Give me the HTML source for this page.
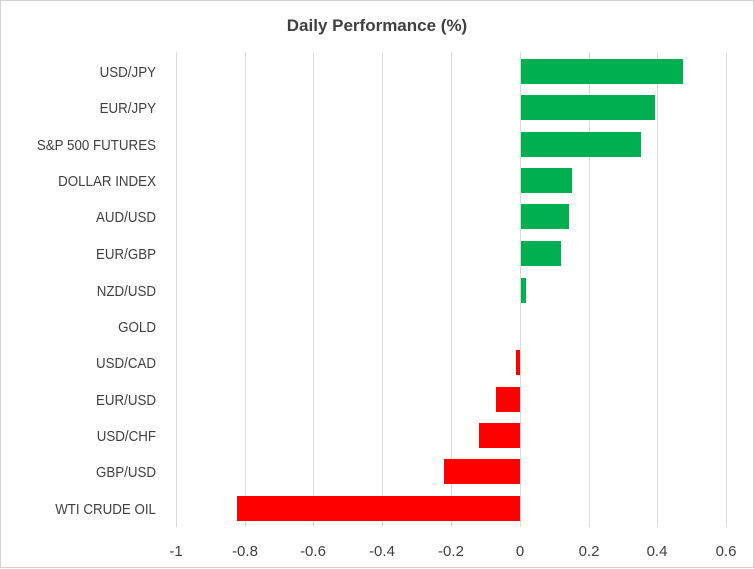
<!DOCTYPE html>
<html><head><meta charset="utf-8"><style>
html,body{margin:0;padding:0;background:#fff}
svg{display:block}
text{font-family:"Liberation Sans",sans-serif;fill:#404040}
</style></head><body>
<svg width="754" height="569" xmlns="http://www.w3.org/2000/svg">
<rect x="0.5" y="0.5" width="753" height="567" fill="#fff" stroke="#d0d0d0"/>
<text x="377" y="31" text-anchor="middle" font-size="17" font-weight="bold" fill="#404040">Daily Performance (%)</text>
<g stroke="#d9d9d9" stroke-width="1">
<line x1="176.5" y1="52" x2="176.5" y2="527"/>
<line x1="245.5" y1="52" x2="245.5" y2="527"/>
<line x1="313.5" y1="52" x2="313.5" y2="527"/>
<line x1="382.5" y1="52" x2="382.5" y2="527"/>
<line x1="451.5" y1="52" x2="451.5" y2="527"/>
<line x1="589.5" y1="52" x2="589.5" y2="527"/>
<line x1="657.5" y1="52" x2="657.5" y2="527"/>
<line x1="726.5" y1="52" x2="726.5" y2="527"/>
</g>
<g fill="#00b050">
<rect x="520" y="59" width="163" height="25"/>
<rect x="520" y="95" width="135" height="25"/>
<rect x="520" y="132" width="121" height="25"/>
<rect x="520" y="168" width="52" height="25"/>
<rect x="520" y="204" width="49" height="25"/>
<rect x="520" y="241" width="41" height="25"/>
<rect x="520" y="278" width="6" height="25"/>
</g>
<g fill="#ff0000">
<rect x="516" y="350" width="4" height="25"/>
<rect x="496" y="387" width="24" height="25"/>
<rect x="479" y="423" width="41" height="25"/>
<rect x="444" y="459" width="76" height="25"/>
<rect x="237" y="496" width="283" height="25"/>
</g>
<line x1="520.5" y1="52" x2="520.5" y2="527" stroke="#d9d9d9"/>
<g font-size="15" text-anchor="end" transform="translate(156,0) scale(0.89,1) translate(-156,0)">
<text x="156" y="77">USD/JPY</text>
<text x="156" y="113">EUR/JPY</text>
<text x="156" y="150">S&amp;P 500 FUTURES</text>
<text x="156" y="186">DOLLAR INDEX</text>
<text x="156" y="222">AUD/USD</text>
<text x="156" y="259">EUR/GBP</text>
<text x="156" y="296">NZD/USD</text>
<text x="156" y="332">GOLD</text>
<text x="156" y="368">USD/CAD</text>
<text x="156" y="405">EUR/USD</text>
<text x="156" y="441">USD/CHF</text>
<text x="156" y="477">GBP/USD</text>
<text x="156" y="514">WTI CRUDE OIL</text>
</g>
<g font-size="15" text-anchor="middle">
<text x="176" y="556">-1</text>
<text x="245" y="556">-0.8</text>
<text x="313" y="556">-0.6</text>
<text x="382" y="556">-0.4</text>
<text x="451" y="556">-0.2</text>
<text x="520" y="556">0</text>
<text x="589" y="556">0.2</text>
<text x="657" y="556">0.4</text>
<text x="726" y="556">0.6</text>
</g>
</svg>
</body></html>
